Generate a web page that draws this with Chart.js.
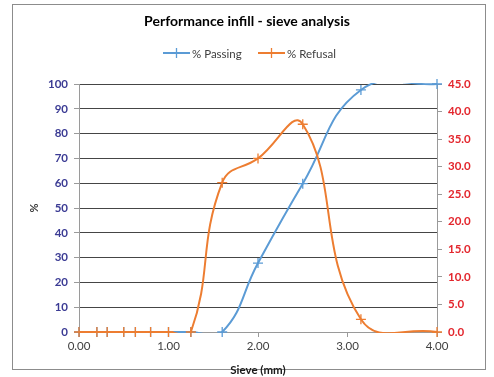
<!DOCTYPE html>
<html>
<head>
<meta charset="utf-8">
<script src="https://cdn.jsdelivr.net/npm/chart.js@4"></script>
<style>
    html, body { margin: 0; padding: 0; background: #fff; }
    #wrap { position: relative; width: 494px; height: 377px; }
    #frame { position: absolute; left: 12px; top: 4px; width: 472px; height: 364px; border: 1px solid #8c8c8c; }
    canvas { position: absolute; left: 0; top: 0; }
</style>
</head>
<body>
<div id="wrap">
    <div id="frame"></div>
    <canvas id="sieveChart" width="494" height="377"></canvas>
</div>
<script>
// Sieve analysis data
const sieveSizes = [0, 0.2, 0.315, 0.5, 0.63, 0.8, 1.0, 1.25, 1.6, 2.0, 2.5, 3.15, 4.0];
const passing = [0, 0, 0, 0, 0, 0, 0, 0, 0, 27.8, 59.8, 97.6, 100];
const refusal = [0, 0, 0, 0, 0, 0, 0, 0, 27.1, 31.5, 37.7, 2.3, 0];
const xTicks = [0, 1, 2, 3, 4];

const colors = {
    blue: '#5b9bd5',
    orange: '#ed7d31',
    leftTick: '#3b3b94',
    rightTick: '#e3262d',
    text: '#404040',
    grid: '#454545',
    axis: '#9a9a9a'
};

const FONT = 'Lato, "Open Sans", sans-serif';

function toPoints(values) {
    return sieveSizes.map((x, i) => ({ x: x, y: values[i] }));
}

// smoothed line, clipped to the plot area (like the spreadsheet does)
function lineSet(label, values, color, axisId, order) {
    return {
        label: label,
        data: toPoints(values),
        borderColor: color,
        borderWidth: 2,
        pointRadius: 0,
        tension: 0.45,
        yAxisID: axisId,
        clip: 1,
        order: order
    };
}

// markers are not clipped
function markerSet(label, values, color, axisId, order) {
    return {
        label: label,
        data: toPoints(values),
        showLine: false,
        borderColor: color,
        backgroundColor: color,
        pointStyle: 'cross',
        pointRadius: 5,
        pointBorderWidth: 1.3,
        yAxisID: axisId,
        clip: false,
        order: order
    };
}

// Legend: line with a cross marker, like the spreadsheet one
const lineLegend = {
    id: 'lineLegend',
    afterDraw(chart) {
        const ctx = chart.ctx;
        const y = 53;
        const items = [
            { text: '% Passing', color: colors.blue, x: 163 },
            { text: '% Refusal', color: colors.orange, x: 258 }
        ];
        ctx.save();
        ctx.font = '11.5px ' + FONT;
        ctx.textBaseline = 'middle';
        items.forEach(item => {
            ctx.strokeStyle = item.color;
            ctx.lineWidth = 2;
            ctx.beginPath();
            ctx.moveTo(item.x, y);
            ctx.lineTo(item.x + 27, y);
            ctx.stroke();
            ctx.lineWidth = 1.3;
            ctx.beginPath();
            ctx.moveTo(item.x + 13.5, y - 5);
            ctx.lineTo(item.x + 13.5, y + 5);
            ctx.moveTo(item.x + 8.5, y);
            ctx.lineTo(item.x + 18.5, y);
            ctx.stroke();
            ctx.fillStyle = colors.text;
            ctx.fillText(item.text, item.x + 29, y + 1);
        });
        ctx.restore();
    }
};

new Chart(document.getElementById('sieveChart'), {
    type: 'line',
    data: {
        datasets: [
            lineSet('% Passing', passing, colors.blue, 'y', 4),
            markerSet('% Passing', passing, colors.blue, 'y', 3),
            lineSet('% Refusal', refusal, colors.orange, 'y2', 2),
            markerSet('% Refusal', refusal, colors.orange, 'y2', 1)
        ]
    },
    options: {
        responsive: false,
        animation: false,
        elements: { line: { capBezierPoints: false } },
        layout: { padding: { top: 4, left: 0, right: 0, bottom: 0 } },
        plugins: {
            legend: { display: false },
            tooltip: { enabled: false },
            title: {
                display: true,
                text: 'Performance infill - sieve analysis',
                color: '#000',
                font: { family: FONT, size: 14, weight: 'bold' },
                padding: { top: 9, bottom: 54.2 }
            }
        },
        scales: {
            x: {
                type: 'linear',
                min: 0,
                max: 4,
                afterBuildTicks: axis => { axis.ticks = xTicks.map(v => ({ value: v })); },
                afterFit: axis => { axis.height = 45; },
                ticks: {
                    color: colors.text,
                    font: { family: FONT, size: 11.5 },
                    padding: 2,
                    callback: v => v.toFixed(2)
                },
                grid: { drawOnChartArea: false, tickLength: 5, tickColor: colors.axis },
                border: { color: colors.axis },
                title: {
                    display: true,
                    text: 'Sieve (mm)',
                    color: '#1a1a1a',
                    font: { family: FONT, size: 11.5, weight: 'bold' },
                    padding: { top: -3, bottom: 0 }
                }
            },
            y: {
                position: 'left',
                min: 0,
                max: 100,
                afterFit: axis => { axis.width = 79; },
                ticks: {
                    stepSize: 10,
                    color: colors.leftTick,
                    font: { family: FONT, size: 11.5, weight: 'bold' },
                    padding: 6
                },
                grid: { color: colors.grid, tickColor: colors.axis, tickLength: 5 },
                border: { color: colors.axis },
                title: {
                    display: true,
                    text: '%',
                    color: colors.text,
                    font: { family: FONT, size: 11, weight: 'bold' },
                    padding: { top: 28, bottom: 0 }
                }
            },
            y2: {
                position: 'right',
                min: 0,
                max: 45,
                afterFit: axis => { axis.width = 57; },
                ticks: {
                    stepSize: 5,
                    color: colors.rightTick,
                    font: { family: FONT, size: 11.5, weight: 'bold' },
                    padding: 6,
                    callback: v => v.toFixed(1)
                },
                grid: { drawOnChartArea: false, tickColor: colors.axis, tickLength: 5 },
                border: { color: colors.axis }
            }
        }
    },
    plugins: [lineLegend]
});
</script>
</body>
</html>
